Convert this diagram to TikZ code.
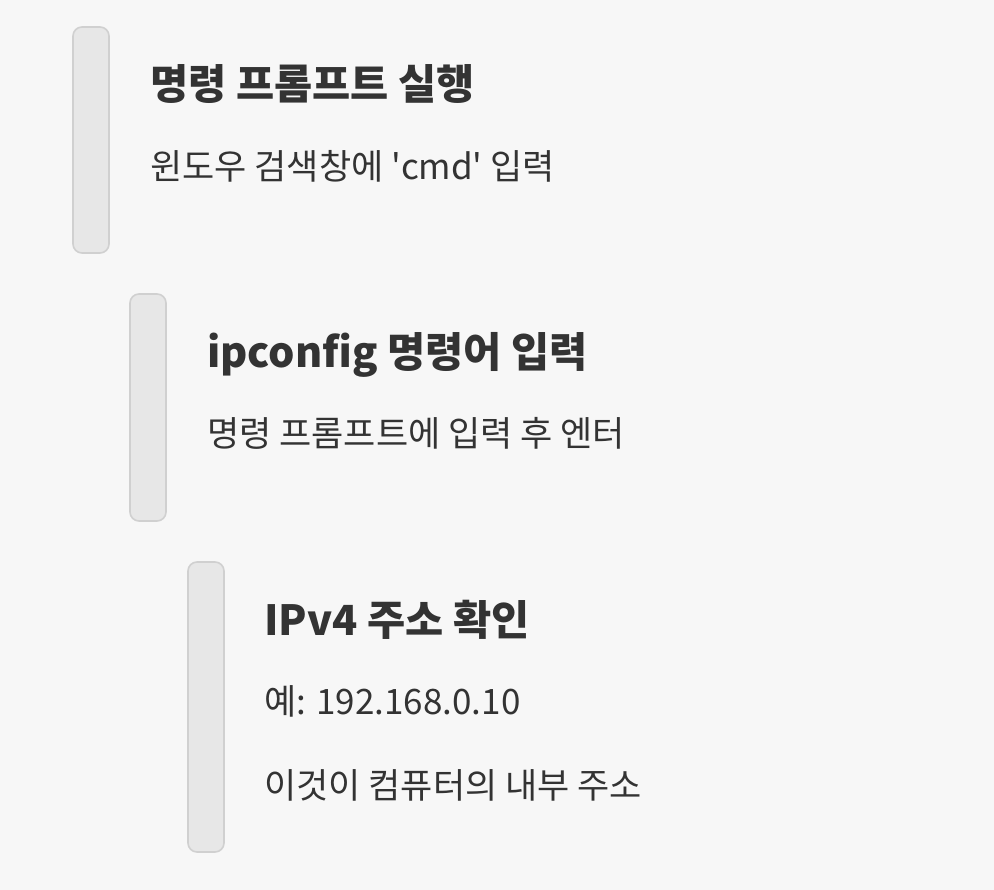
\documentclass[tikz,border=0pt]{standalone}
\usepackage{fontspec}
\setmainfont{Noto Sans CJK KR}
\usetikzlibrary{positioning}
\definecolor{bgcol}{HTML}{F7F7F7}
\definecolor{barfill}{HTML}{E7E7E7}
\definecolor{barline}{HTML}{D0D0D0}
\definecolor{ink}{HTML}{333333}

\begin{document}
\begin{tikzpicture}[x=1pt,y=-1pt,
  bar/.style={draw=barline,fill=barfill,line width=1.6pt,rounded corners=9pt},
  head/.style={anchor=base west,inner sep=0pt,text=ink,font=\fontsize{41.5}{48}\selectfont\bfseries},
  body/.style={anchor=base west,inner sep=0pt,text=ink,font=\fontsize{35}{42}\selectfont}]
\fill[bgcol] (0,0) rectangle (994,890);
\useasboundingbox (0,0) rectangle (994,890);
% step 1
\draw[bar] (73,27) rectangle (109,253);
\node[head] (run) at (150,100) {명령 프롬프트 실행};
\node[body] (runtxt) at (150,180) {윈도우 검색창에 \textquotesingle cmd\textquotesingle{} 입력};
% step 2
\draw[bar] (130,294) rectangle (166,521);
\node[head] (ipc) at (207,368) {ipconfig 명령어 입력};
\node[body] (ipctxt) at (207,447) {명령 프롬프트에 입력 후 엔터};
% step 3
\draw[bar] (188,562) rectangle (224,852);
\node[head] (ipv) at (264,635) {IPv4 주소 확인};
\node[body] (ipvex) at (264,714) {예: 192.168.0.10};
\node[body] (ipvtxt) at (264,798) {이것이 컴퓨터의 내부 주소};
\end{tikzpicture}
\end{document}
